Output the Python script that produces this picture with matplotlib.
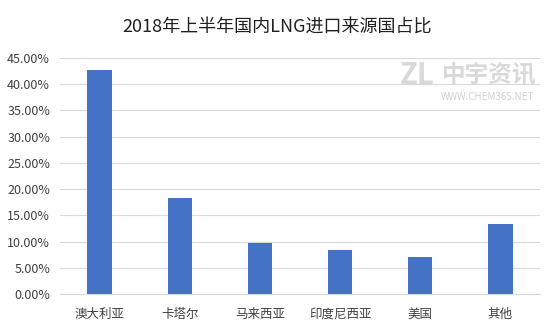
import matplotlib
matplotlib.use("Agg")
import matplotlib.pyplot as plt
from matplotlib.ticker import FuncFormatter

plt.rcParams['font.family'] = ['Noto Sans CJK SC', 'DejaVu Sans']

categories = ['澳大利亚', '卡塔尔', '马来西亚', '印度尼西亚', '美国', '其他']
shares = [0.427, 0.183, 0.097, 0.084, 0.071, 0.134]
yticks = [0.0, 0.05, 0.10, 0.15, 0.20, 0.25, 0.30, 0.35, 0.40, 0.45]

fig = plt.figure(figsize=(5.54, 3.32), dpi=100)
ax = fig.add_axes([0.108, 0.1145, 0.867, 0.711])

x = range(len(categories))
ax.bar(x, shares, width=0.31, color='#4472C4', zorder=3)

ax.set_xlim(-0.5, len(categories) - 0.5)
ax.set_ylim(0, 0.45)
ax.set_yticks(yticks)
ax.yaxis.set_major_formatter(FuncFormatter(lambda v, p: f'{v * 100:.2f}%'))
ax.set_xticks(list(x))
ax.set_xticklabels(categories)

ax.grid(axis='y', color='#D9D9D9', linewidth=0.8, zorder=0)
for s in ['top', 'right', 'left']:
    ax.spines[s].set_visible(False)
ax.spines['bottom'].set_color('#D9D9D9')
ax.tick_params(axis='both', length=0, labelsize=9, colors='#404040')
ax.tick_params(axis='x', pad=10)
ax.tick_params(axis='y', pad=7)

fig.text(0.5, 0.918, '2018年上半年国内LNG进口来源国占比', ha='center', va='center',
         fontsize=13, color='#202020')

# watermark
fig.text(0.753, 0.775, 'ZL', fontsize=21, fontweight='bold', color='#D9D9D9',
         ha='center', va='center', style='italic')
fig.text(0.883, 0.776, '中宇资讯', fontsize=17, fontweight='bold', color='#D9D9D9',
         ha='center', va='center')
fig.text(0.879, 0.708, 'WWW.CHEM365.NET', fontsize=7, color='#D0D0D0',
         ha='center', va='center')

fig.savefig('out.png', dpi=100)
